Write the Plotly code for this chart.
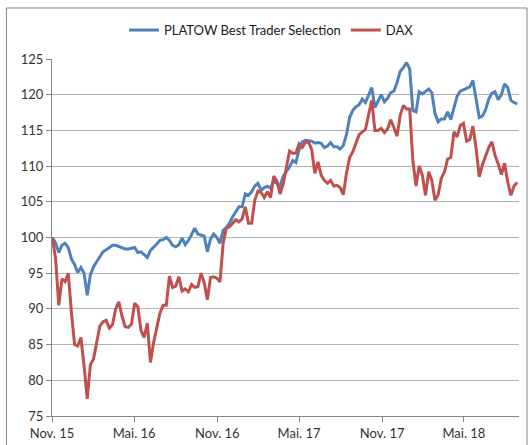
import pandas as pd
import plotly.graph_objs as go

# weekly closes, both rebased to 100 at start (Nov 2015)
start_date = "2015-11-02"

platow = [
    100.0, 99.2, 97.9, 98.9, 99.2, 98.6, 97.0, 96.2, 95.1, 95.8,
    95.0, 91.9, 94.8, 95.9, 96.6, 97.3, 98.0, 98.3, 98.6, 98.9,
    98.9, 98.7, 98.6, 98.4, 98.4, 98.5, 98.6, 97.9, 98.0, 97.6,
    97.2, 98.2, 98.6, 99.1, 99.6, 99.7, 100.0, 99.6, 98.9, 98.7,
    99.0, 99.9, 99.0, 99.6, 100.4, 101.3, 100.5, 100.4, 100.2, 98.0,
    99.8, 100.5, 100.0, 99.2, 101.0, 101.4, 102.0, 102.9, 103.6, 104.3,
    104.3, 106.1, 105.9, 106.4, 107.2, 107.6, 106.6, 107.0, 107.2, 106.9,
    107.9, 107.5, 107.2, 108.6, 109.3, 109.9, 110.8, 110.5, 112.3, 113.4,
    113.6, 113.5, 113.5, 113.2, 113.3, 113.2, 112.6, 112.8, 113.3, 112.7,
    112.7, 112.4, 112.9, 114.4, 116.8, 117.8, 118.3, 118.6, 119.4, 118.9,
    120.0, 121.0, 118.2, 119.1, 120.0, 119.0, 119.5, 120.3, 120.5, 121.7,
    123.3, 123.8, 124.5, 123.6, 117.8, 117.6, 120.4, 120.1, 120.4, 120.8,
    120.3, 117.4, 116.2, 116.6, 116.6, 117.6, 116.5, 118.3, 119.8, 120.5,
    120.7, 120.8, 121.1, 122.0, 119.6, 116.8, 117.0, 117.9, 119.4, 120.2,
    120.4, 119.3, 120.0, 121.5, 121.0, 119.2, 118.9, 118.7,
]

dax = [
    100.0, 97.0, 90.5, 94.2, 93.8, 95.0, 89.5, 85.0, 84.8, 86.0,
    82.0, 77.4, 82.2, 83.0, 85.3, 87.6, 88.2, 88.4, 87.3, 87.8,
    90.0, 91.0, 89.0, 87.5, 87.4, 87.9, 90.8, 90.3, 87.0, 86.0,
    88.0, 82.5, 85.3, 87.4, 89.4, 90.5, 90.5, 94.6, 93.0, 93.2,
    94.5, 92.5, 92.8, 92.4, 93.4, 93.0, 93.1, 95.0, 93.7, 91.3,
    94.4, 94.5, 94.3, 93.8, 99.2, 101.3, 101.5, 102.0, 102.5, 102.2,
    102.6, 104.3, 102.0, 102.0, 105.2, 106.5, 106.3, 105.6, 106.4, 105.6,
    108.6, 107.9, 106.1, 107.5, 110.0, 112.1, 111.8, 111.8, 113.1, 112.6,
    113.3, 113.4, 112.3, 109.0, 110.6, 108.7, 108.0, 107.6, 108.0, 107.2,
    107.3, 107.0, 106.0, 109.0, 111.2, 112.0, 113.2, 114.4, 114.8, 115.1,
    117.2, 119.2, 115.0, 115.0, 115.3, 114.7, 115.2, 116.5, 115.4, 114.2,
    117.1, 118.5, 118.0, 118.0, 110.8, 107.2, 110.0, 108.7, 105.9, 109.2,
    108.0, 105.2, 106.0, 108.3, 109.2, 111.0, 111.2, 114.8, 114.1, 115.7,
    116.0, 113.5, 113.7, 115.6, 112.5, 108.5, 110.2, 111.5, 112.6, 113.4,
    111.5, 110.3, 108.8, 110.4, 107.8, 105.9, 107.2, 107.7,
]

tick_dates = ["2015-11-01", "2016-05-01", "2016-11-01", "2017-05-01", "2017-11-01", "2018-05-01"]
tick_labels = ["Nov. 15", "Mai. 16", "Nov. 16", "Mai. 17", "Nov. 17", "Mai. 18"]

dates = pd.date_range(start_date, periods=len(platow), freq="7D")

fig = go.Figure()
fig.add_trace(go.Scatter(x=dates, y=platow, mode="lines", name="PLATOW Best Trader Selection",
                         line=dict(color="#4F81BD", width=3)))
fig.add_trace(go.Scatter(x=dates, y=dax, mode="lines", name="DAX",
                         line=dict(color="#C0504D", width=3)))

axis_grey = "#868686"

fig.update_layout(
    width=531, height=445,
    margin=dict(l=52, r=12, t=59, b=29, autoexpand=False),
    paper_bgcolor="white", plot_bgcolor="white",
    font=dict(family="Lato", size=13, color="#262626"),
    showlegend=True,
    legend=dict(orientation="h", x=0.47, xanchor="center", y=1.081, yanchor="middle",
                font=dict(size=13, color="#1a1a1a"), bgcolor="rgba(0,0,0,0)"),
    xaxis=dict(
        range=["2015-11-01", "2018-08-31"],
        tickvals=tick_dates, ticktext=tick_labels,
        showgrid=False, zeroline=False,
        showline=True, linecolor=axis_grey, linewidth=1,
        ticks="outside", ticklen=5, tickcolor=axis_grey,
        tickfont=dict(size=13, color="#333333"),
    ),
    yaxis=dict(
        range=[75, 125], dtick=5,
        showgrid=True, gridcolor="#b3b3b3", gridwidth=1, zeroline=False,
        showline=True, linecolor=axis_grey, linewidth=1,
        ticks="outside", ticklen=5, tickcolor=axis_grey,
        tickfont=dict(size=13, color="#333333"),
    ),
    # chart area frame as in the Excel export
    shapes=[dict(type="rect", xref="paper", yref="paper",
                 x0=-0.0975, x1=1.0172, y0=-0.1, y1=1.1429,
                 line=dict(color=axis_grey, width=1), layer="above")],
)

# page body margin would shift the fixed-size figure by 8px
fig.write_html("out.html", config={"displayModeBar": False},
               post_script="document.body.style.margin='0';")
